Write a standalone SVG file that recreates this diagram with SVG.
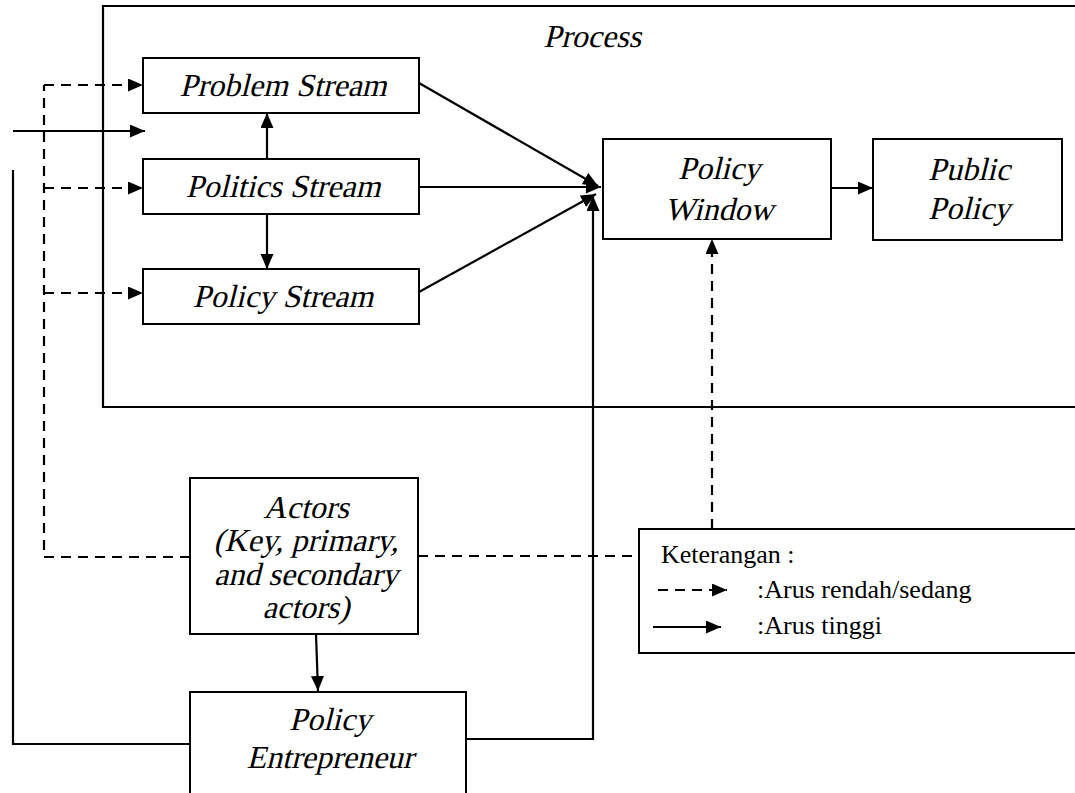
<svg xmlns="http://www.w3.org/2000/svg" width="1075" height="793" viewBox="0 0 1075 793">
  <style>
    .box { fill: #ffffff; stroke: #000000; stroke-width: 2; }
    .line { fill: none; stroke: #000000; stroke-width: 2.2; }
    .dash { fill: none; stroke: #000000; stroke-width: 2.2; stroke-dasharray: 10 7; }
    .lbl { font-family: "Liberation Serif", "Times New Roman", serif; font-style: normal; font-size: 32px; fill: #000000; text-anchor: middle; }
    .leg { font-family: "Liberation Serif", "Times New Roman", serif; font-size: 26px; fill: #000000; }
  </style>
  <defs>
    <marker id="ah" markerUnits="userSpaceOnUse" markerWidth="16" markerHeight="14" refX="15" refY="6.5" orient="auto">
      <path d="M0,0 L15,6.5 L0,13 z" fill="#000000"/>
    </marker>
  </defs>

  <rect width="1075" height="793" fill="#ffffff"/>

  <g id="process">
    <path class="line" d="M1076,6 H103 V407 H1076"/>
    <text class="lbl" transform="translate(592 47) skewX(-14)">Process</text>
  </g>

  <g id="connectors">
    <path class="dash" d="M190,557 H44 V85"/>
    <path class="dash" d="M44,85 H143" marker-end="url(#ah)"/>
    <path class="dash" d="M44,188 H143" marker-end="url(#ah)"/>
    <path class="dash" d="M44,293 H143" marker-end="url(#ah)"/>
    <path class="line" d="M13,131 H145" marker-end="url(#ah)"/>
    <path class="line" d="M13,170 V744 H190"/>
    <path class="line" d="M267,159 V113" marker-end="url(#ah)"/>
    <path class="line" d="M267,214 V269" marker-end="url(#ah)"/>
    <path class="line" d="M419,83 L598,186" marker-end="url(#ah)"/>
    <path class="line" d="M419,187 H601" marker-end="url(#ah)"/>
    <path class="line" d="M419,292 L596,194" marker-end="url(#ah)"/>
    <path class="line" d="M466,739 H593 V196" marker-end="url(#ah)"/>
    <path class="line" d="M831,188 H873" marker-end="url(#ah)"/>
    <path class="line" d="M316,634 L318,691" marker-end="url(#ah)"/>
    <path class="dash" d="M418,556 H639"/>
    <path class="dash" d="M712,529 V239" marker-end="url(#ah)"/>
  </g>

  <g id="problem-stream">
    <rect class="box" x="143" y="58" width="276" height="55"/>
    <text class="lbl" transform="translate(283 96) skewX(-14)">Problem Stream</text>
  </g>
  <g id="politics-stream">
    <rect class="box" x="143" y="159" width="276" height="55"/>
    <text class="lbl" transform="translate(283 197) skewX(-14)">Politics Stream</text>
  </g>
  <g id="policy-stream">
    <rect class="box" x="143" y="269" width="276" height="55"/>
    <text class="lbl" transform="translate(283 307) skewX(-14)">Policy Stream</text>
  </g>
  <g id="policy-window">
    <rect class="box" x="603" y="139" width="228" height="100"/>
    <text class="lbl" transform="translate(719 179) skewX(-14)">Policy</text>
    <text class="lbl" transform="translate(719 220) skewX(-14)">Window</text>
  </g>
  <g id="public-policy">
    <rect class="box" x="873" y="139" width="189" height="101"/>
    <text class="lbl" transform="translate(969 180) skewX(-14)">Public</text>
    <text class="lbl" transform="translate(969 219) skewX(-14)">Policy</text>
  </g>
  <g id="actors">
    <rect class="box" x="190" y="478" width="228" height="156"/>
    <text class="lbl" transform="translate(306 518) skewX(-14)">Actors</text>
    <text class="lbl" transform="translate(306 551) skewX(-14)">(Key, primary,</text>
    <text class="lbl" transform="translate(306 585) skewX(-14)">and secondary</text>
    <text class="lbl" transform="translate(306 618) skewX(-14)">actors)</text>
  </g>
  <g id="policy-entrepreneur">
    <rect class="box" x="190" y="692" width="276" height="110"/>
    <text class="lbl" transform="translate(330 730) skewX(-14)">Policy</text>
    <text class="lbl" transform="translate(330 768) skewX(-14)">Entrepreneur</text>
  </g>
  <g id="legend">
    <path class="box" d="M1076,529 H639 V653 H1076"/>
    <text class="leg" x="661" y="563">Keterangan :</text>
    <path class="dash" d="M658,590 H727" stroke-dasharray="8 6" marker-end="url(#ah)"/>
    <text class="leg" x="757" y="598">:Arus rendah/sedang</text>
    <path class="line" d="M653,627 H721" marker-end="url(#ah)"/>
    <text class="leg" x="757" y="634">:Arus tinggi</text>
  </g>
</svg>
